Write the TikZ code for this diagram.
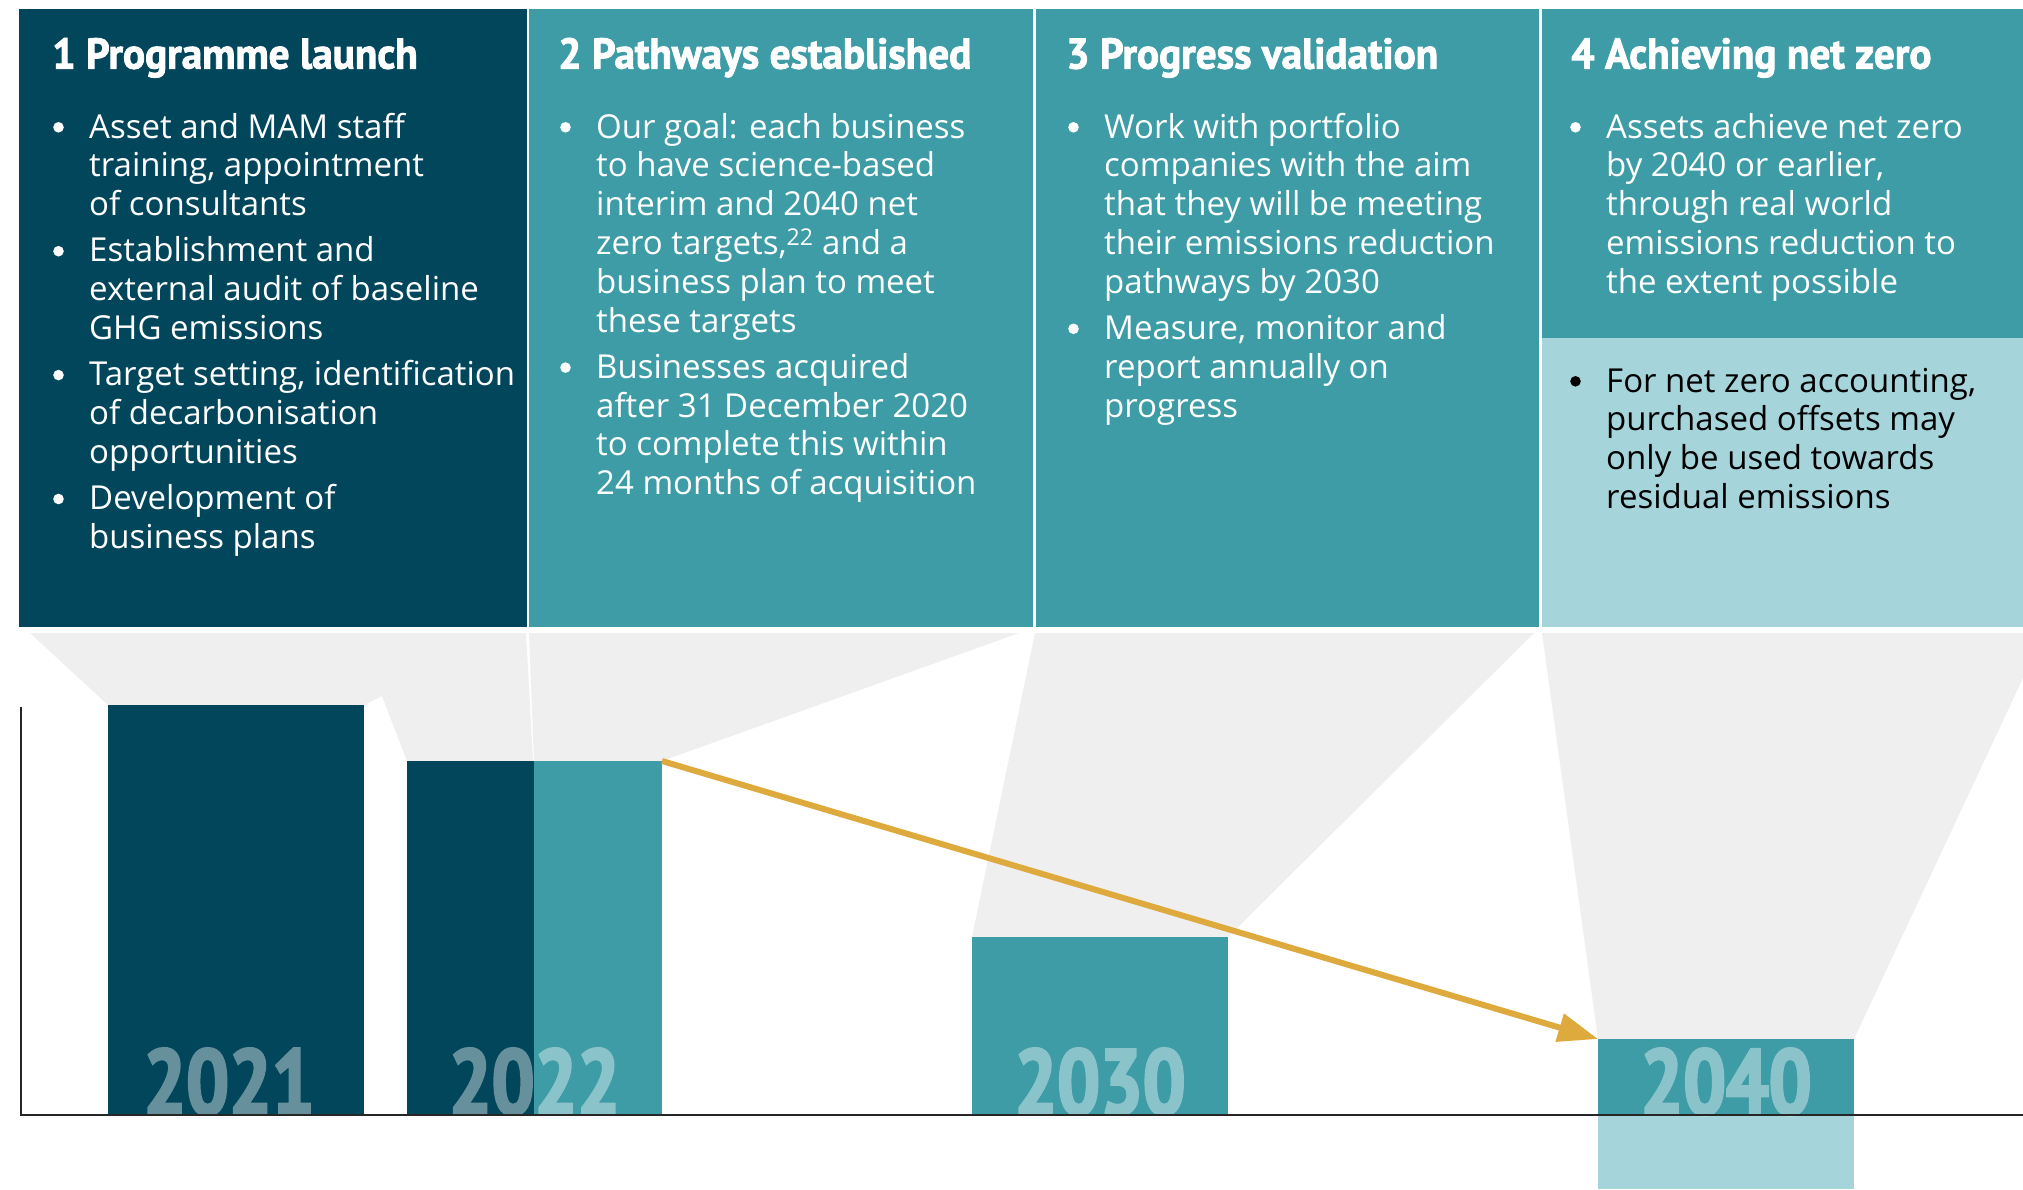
\documentclass[tikz,border=0pt]{standalone}
\usepackage{fontspec}
\setmainfont{Open Sans}
\newfontfamily\headff[FakeStretch=0.96,FakeBold=2]{PT Sans}
\newfontfamily\yearff[FakeStretch=0.82,FakeBold=3]{PT Sans}
\usetikzlibrary{arrows.meta}
\definecolor{navy}{RGB}{2,70,92}
\definecolor{tealc}{RGB}{61,156,166}
\definecolor{lightteal}{RGB}{165,212,218}
\definecolor{goldc}{RGB}{222,169,61}
\definecolor{funnelgray}{RGB}{239,239,239}
\newcommand{\bodyfs}{\fontsize{33}{38.8}\selectfont}
\newcommand{\ptext}[1]{\parbox[t]{480pt}{\bodyfs\raggedright #1}}
\begin{document}
\begin{tikzpicture}[x=1pt,y=-1pt,
  panel/.style={draw=none, inner sep=0pt, outer sep=0pt, anchor=north west},
  bar/.style={draw=none, inner sep=0pt, outer sep=0pt, anchor=south west},
  head/.style={anchor=base west, inner sep=0pt, text=white, font=\headff\bfseries\fontsize{43}{50}\selectfont},
  body/.style={anchor=base west, inner sep=0pt, text=white},
  year/.style={anchor=base, inner sep=0pt, text=white, font=\yearff\bfseries\fontsize{92}{100}\selectfont},
  funnel/.style={fill=funnelgray, draw=none},
  dot/.style={fill=white},
  axisline/.style={draw=black!85, line width=2pt},
  trend/.style={draw=goldc, line width=6pt, -{Triangle[length=40pt,width=28pt]}}]
\useasboundingbox (0,0) rectangle (2023,1189);
\fill[white] (0,0) rectangle (2023,1189);
% panels
\node[panel, fill=navy, minimum width=508pt, minimum height=618pt] (p1) at (19,9) {};
\node[panel, fill=tealc, minimum width=504pt, minimum height=618pt] (p2) at (529,9) {};
\node[panel, fill=tealc, minimum width=503pt, minimum height=618pt] (p3) at (1036,9) {};
\node[panel, fill=tealc, minimum width=481pt, minimum height=329pt] (p4a) at (1542,9) {};
\node[panel, fill=lightteal, minimum width=481pt, minimum height=289pt] (p4b) at (1542,338) {};
% funnels
\fill[funnel] (30,633) -- (526,633) -- (533,761) -- (407,761) -- (382,696) -- (364,705) -- (108,705) -- cycle;
\fill[funnel] (529,633) -- (1019,633) -- (662,761) -- (534,761) -- cycle;
\fill[funnel] (1035,633) -- (1534,633) -- (1228,937) -- (972,937) -- cycle;
\fill[funnel] (1542,633) -- (2023,633) -- (2023,678) -- (1854,1039) -- (1598,1039) -- cycle;
% bars
\node[bar, fill=navy, minimum width=256pt, minimum height=410pt] (b21) at (108,1115) {};
\node[bar, fill=navy, minimum width=127pt, minimum height=354pt] (b22a) at (407,1115) {};
\node[bar, fill=tealc, minimum width=128.5pt, minimum height=354pt] (b22b) at (533.5,1115) {};
\node[bar, fill=tealc, minimum width=256pt, minimum height=178pt] (b30) at (972,1115) {};
\node[bar, fill=tealc, minimum width=256pt, minimum height=76pt] (b40) at (1598,1115) {};
\node[panel, fill=lightteal, minimum width=256pt, minimum height=74pt] (b40low) at (1598,1115) {};
% year labels
\begin{scope}[transparency group, opacity=0.4]
\node[year] (y21) at (229,1114) {2021};
\node[year] (y22) at (534.5,1114) {2022};
\node[year] (y30) at (1100,1114) {2030};
\node[year] (y40) at (1726,1114) {2040};
\end{scope}
% axis
\draw[axisline] (21,707) -- (21,1115) -- (2023,1115);
% trend arrow
\draw[trend] (b22b.north east) -- (b40.north west);
% headings
\node[head] (h1) at (52,68.6) {1 Programme launch};
\node[head] (h2) at (558,68.6) {2 Pathways established};
\node[head] (h3) at (1066,68.6) {3 Progress validation};
\node[head] (h4) at (1571,68.6) {4 Achieving net zero};
% texts
\node[body] (t1) at (89,138) {\ptext{Asset and MAM staff\\ training, appointment\\ of consultants\\[7.5pt]
Establishment and\\ external audit of baseline\\ GHG emissions\\[7.5pt]
Target setting, identification\\ of decarbonisation\\ opportunities\\[7.5pt]
Development of\\ business plans}};
\node[body] (t2) at (596,138) {\ptext{Our goal: each business\\ to have science-based\\ interim and 2040 net\\ zero targets,\textsuperscript{22} and a\\ business plan to meet\\ these targets\\[7.5pt]
Businesses acquired\\ after 31 December 2020\\ to complete this within\\ 24 months of acquisition}};
\node[body] (t3) at (1104,138) {\ptext{Work with portfolio\\ companies with the aim\\ that they will be meeting\\ their emissions reduction\\ pathways by 2030\\[7.5pt]
Measure, monitor and\\ report annually on\\ progress}};
\node[body] (t4) at (1606,138) {\ptext{Assets achieve net zero\\ by 2040 or earlier,\\ through real world\\ emissions reduction to\\ the extent possible}};
\node[body, text=black] (t5) at (1606,392) {\ptext{For net zero accounting,\\ purchased offsets may\\ only be used towards\\ residual emissions}};
% bullets
\foreach \by in {127.3, 251.2, 375.1, 499.0} \fill[dot] (58.5,\by) circle (5.3pt);
\foreach \by in {127.3, 367.6} \fill[dot] (565.5,\by) circle (5.3pt);
\foreach \by in {127.3, 328.8} \fill[dot] (1073.5,\by) circle (5.3pt);
\fill[dot] (1575.5,127.3) circle (5.3pt);
\fill[black] (1575.5,381.3) circle (5.3pt);
\end{tikzpicture}
\end{document}
